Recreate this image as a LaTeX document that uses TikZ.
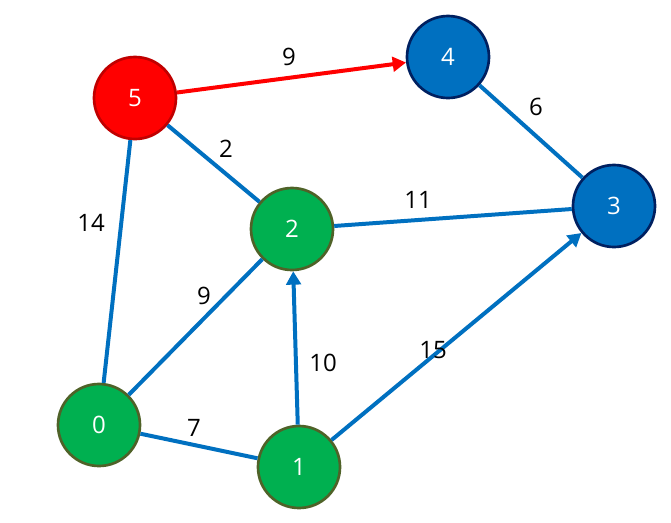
\documentclass[tikz,border=0pt]{standalone}
\usepackage{fontspec}
\setmainfont{Open Sans}
\usepackage{xcolor}
\usepackage{tikz}
\usetikzlibrary{arrows.meta,positioning,shapes}

\definecolor{vgreen}{HTML}{00B050}
\definecolor{vgreenline}{HTML}{4F6228}
\definecolor{vblue}{HTML}{0070C0}
\definecolor{vblueline}{HTML}{002060}
\definecolor{vred}{HTML}{FF0000}
\definecolor{vredline}{HTML}{C00000}

\begin{document}
\begin{tikzpicture}[x=0.75pt,y=-0.75pt,
      vert/.style={circle,minimum size=61.5pt,inner sep=0pt,line width=2pt,
                   text=white,font=\fontsize{18}{21}\selectfont},
      gvert/.style={vert,draw=vgreenline,fill=vgreen},
      bvert/.style={vert,draw=vblueline,fill=vblue},
      rvert/.style={vert,draw=vredline,fill=vred},
      edge/.style={draw=vblue,line width=3pt},
      dedge/.style={edge,-{Triangle[length=10pt,width=11pt]}},
      wt/.style={font=\fontsize{18}{21}\selectfont,inner sep=1pt}]
    \useasboundingbox (0,0) rectangle (671,522);
    % vertices
    \node[rvert] (v5) at (135,98) {5};
    \node[bvert] (v4) at (448,57) {4};
    \node[bvert] (v3) at (614,206) {3};
    \node[gvert] (v2) at (292,229) {2};
    \node[gvert] (v0) at (99,425) {0};
    \node[gvert] (v1) at (299,467) {1};
    % edges
    \draw[dedge,draw=vred] (v5) -- (v4);
    \draw[edge] (v4) -- (v3);
    \draw[edge] (v5) -- (v2);
    \draw[edge] (v5) -- (v0);
    \draw[edge] (v2) -- (v3);
    \draw[edge] (v0) -- (v2);
    \draw[dedge] (v1) -- (v2);
    \draw[dedge] (v1) -- (v3);
    \draw[edge] (v0) -- (v1);
    % weights
    \node[wt] (w54) at (289,57) {9};
    \node[wt] (w43) at (536,107) {6};
    \node[wt] (w52) at (226,149) {2};
    \node[wt] (w50) at (91,223) {14};
    \node[wt] (w23) at (418,200) {11};
    \node[wt] (w02) at (204,296) {9};
    \node[wt] (w12) at (323,363) {10};
    \node[wt] (w13) at (433,350) {15};
    \node[wt] (w01) at (194,428) {7};
  \end{tikzpicture}
\end{document}
